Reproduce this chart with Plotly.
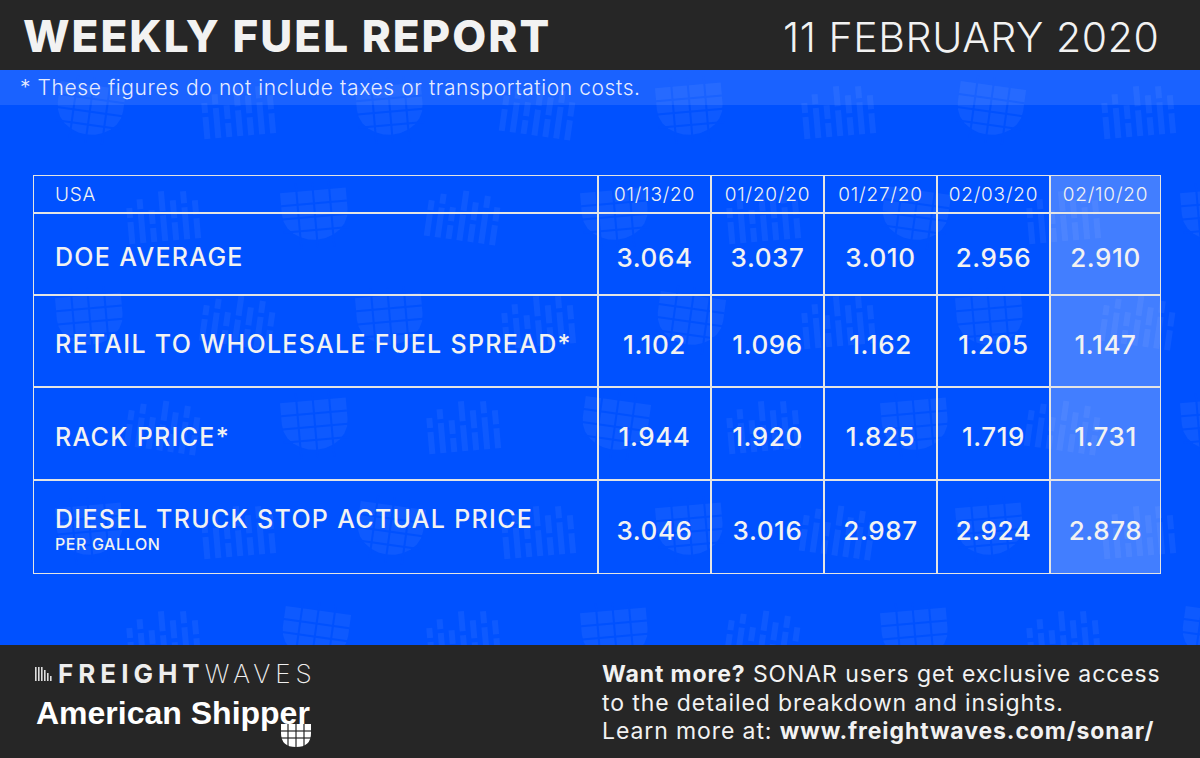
import math
import numpy as np
import plotly.graph_objects as go

# data
region = "USA"
weeks = ["01/13/20", "01/20/20", "01/27/20", "02/03/20", "02/10/20"]
metrics = [
    "DOE AVERAGE",
    "RETAIL TO WHOLESALE FUEL SPREAD*",
    "RACK PRICE*",
    "DIESEL TRUCK STOP ACTUAL PRICE",
]
metric_notes = ["", "", "", "PER GALLON"]
doe_average = [3.064, 3.037, 3.010, 2.956, 2.910]
fuel_spread = [1.102, 1.096, 1.162, 1.205, 1.147]
rack_price = [1.944, 1.920, 1.825, 1.719, 1.731]
truck_stop = [3.046, 3.016, 2.987, 2.924, 2.878]
values = [doe_average, fuel_spread, rack_price, truck_stop]
highlight_week = "02/10/20"

# look
W, H = 1200, 758
BLUE = "#0051ff"
DARK = "#262626"
GRID = "#e4e4e4"
TXT = "#f2f2f2"
FONT = "Inter"
MARK = "rgba(255,255,255,0.055)"

col_widths = [565, 113, 113, 113, 113, 111]
row_heights = [38, 82, 92, 93, 94]
tbl_left, tbl_top = 33, 175
col_edges = np.concatenate([[0], np.cumsum(col_widths)])
row_edges = np.concatenate([[0], np.cumsum(row_heights)])
col_mid = (col_edges[:-1] + col_edges[1:]) / 2
row_mid = (row_edges[:-1] + row_edges[1:]) / 2
tbl_w, tbl_h = float(col_edges[-1]), float(row_edges[-1])


def px(x):
    return float(x) / W


def py(y):
    return 1 - float(y) / H


def spaced(s, ls):
    return f"<span style='letter-spacing:{ls}px'>{s}</span>"


def rot(pts, cx, cy, ang):
    a = math.radians(ang)
    return [(cx + x * math.cos(a) - y * math.sin(a), cy + x * math.sin(a) + y * math.cos(a))
            for x, y in pts]


def poly(pts, cx, cy, ang):
    out = [f"{px(x):.5f},{py(y):.5f}" for x, y in rot(pts, cx, cy, ang)]
    return "M " + " L ".join(out) + " Z"


# background watermark pieces (shield with grid, broken bars)
def shield_shapes(cx, cy, ang, s=33):
    pts = [(-s, -s * 0.75), (s, -s * 0.75), (s, -s * 0.1)]
    for k in range(1, 12):
        t = math.pi * k / 12
        pts.append((s * math.cos(t), -s * 0.1 + s * 0.85 * math.sin(t)))
    pts.append((-s, -s * 0.1))
    out = [dict(type="path", path=poly(pts, cx, cy, ang), fillcolor=MARK, line_width=0, layer="below")]
    for gx in (-s / 2, 0, s / 2):
        (x0, y0), (x1, y1) = rot([(gx, -s), (gx, s)], cx, cy, ang)
        out.append(dict(type="line", x0=px(x0), x1=px(x1), y0=py(y0), y1=py(y1),
                        line=dict(color=BLUE, width=2), layer="below"))
    for gy in (-s * 0.35, s * 0.05, s * 0.45):
        (x0, y0), (x1, y1) = rot([(-s, gy), (s, gy)], cx, cy, ang)
        out.append(dict(type="line", x0=px(x0), x1=px(x1), y0=py(y0), y1=py(y1),
                        line=dict(color=BLUE, width=2), layer="below"))
    return out


def bars_shapes(cx, cy, ang):
    parts = []
    tops = [-10, -18, -6, -24, -14, -22, -12]
    cuts = [2, -6, 10, -2, 6, -8, 4]
    for k, (tp, ct) in enumerate(zip(tops, cuts)):
        x0 = -38 + k * 11
        for a, b in ((tp, ct - 2), (ct + 2, 26)):
            parts.append(poly([(x0, a), (x0 + 6, a), (x0 + 6, b), (x0, b)], cx, cy, ang))
    return [dict(type="path", path=" ".join(parts), fillcolor=MARK, line_width=0, layer="below")]


shapes = []
for j in range(6):
    for i in range(8):
        cx = 90 + i * 150 + (j % 2) * 75
        cy = 110 + j * 105
        ang = 8 if (i + j) % 3 == 0 else -5
        if (i + j) % 2 == 0:
            shapes += shield_shapes(cx, cy, ang)
        else:
            shapes += bars_shapes(cx, cy, ang)

shapes += [
    # header bar, note band, footer
    dict(type="rect", x0=0, x1=1, y0=py(0), y1=py(70), fillcolor=DARK, line_width=0, layer="below"),
    dict(type="rect", x0=0, x1=1, y0=py(70), y1=py(105), fillcolor="rgba(255,255,255,0.1)",
         line_width=0, layer="below"),
    dict(type="rect", x0=0, x1=1, y0=py(645), y1=py(H), fillcolor=DARK, line_width=0, layer="below"),
]

# freightwaves bar mark
for i, h in enumerate([14, 14, 14, 11, 8, 5]):
    shapes.append(dict(type="rect", x0=px(35 + i * 3), x1=px(36.6 + i * 3),
                       y0=py(681), y1=py(681 - h), fillcolor="#dddddd", line_width=0))

# american shipper shield
sx0, sx1, sy0, sy1 = 281, 311, 724, 747
shapes.append(dict(
    type="path",
    path=(f"M {px(sx0)},{py(sy0)} L {px(sx1)},{py(sy0)} L {px(sx1)},{py(sy0 + 9)} "
          f"Q {px(sx1)},{py(sy1)} {px((sx0 + sx1) / 2)},{py(sy1)} "
          f"Q {px(sx0)},{py(sy1)} {px(sx0)},{py(sy0 + 9)} Z"),
    fillcolor="white", line_width=0,
))
for gx in [288, 296, 304]:
    shapes.append(dict(type="line", x0=px(gx), x1=px(gx), y0=py(sy0), y1=py(sy1),
                       line=dict(color=DARK, width=1.2)))
for gy in [731, 738]:
    shapes.append(dict(type="line", x0=px(sx0), x1=px(sx1), y0=py(gy), y1=py(gy),
                       line=dict(color=DARK, width=1.2)))
for s in shapes:
    s.update(xref="paper", yref="paper")

# table grid on the table axes
for e in col_edges:
    shapes.append(dict(type="line", xref="x", yref="y", x0=e, x1=e, y0=0, y1=tbl_h,
                       line=dict(color=GRID, width=2)))
for e in row_edges:
    shapes.append(dict(type="line", xref="x", yref="y", x0=0, x1=tbl_w, y0=e, y1=e,
                       line=dict(color=GRID, width=2)))

# cell fills: last week column highlighted
cols = [region] + weeks
z = [[1 if c == highlight_week else 0 for c in cols] for _ in row_heights]

fig = go.Figure()
fig.add_trace(go.Heatmap(
    x=col_edges, y=row_edges, z=z,
    zmin=0, zmax=1,
    colorscale=[[0, "rgba(0,0,0,0)"], [1, "rgba(255,255,255,0.26)"]],
    showscale=False, hoverinfo="skip",
))

# header row texts
fig.add_trace(go.Scatter(
    x=list(col_mid[1:]), y=[row_mid[0] + 2] * len(weeks),
    mode="text", text=[spaced(w, 0.8) for w in weeks],
    textfont=dict(family=FONT, size=19, color=TXT, weight=300),
    hoverinfo="skip", cliponaxis=False,
))
fig.add_trace(go.Scatter(
    x=[22], y=[row_mid[0] + 2], mode="text", text=[spaced(region, 0.8)],
    textposition="middle right",
    textfont=dict(family=FONT, size=19, color=TXT, weight=300),
    hoverinfo="skip", cliponaxis=False,
))

# row labels (with a small note line under the label where present)
label_y = [m + (6 if not n else -5) for m, n in zip(row_mid[1:], metric_notes)]
fig.add_trace(go.Scatter(
    x=[22] * len(metrics), y=label_y,
    mode="text", text=[spaced(m, 1.3) for m in metrics], textposition="middle right",
    textfont=dict(family=FONT, size=25, color=TXT, weight=500),
    hoverinfo="skip", cliponaxis=False,
))
note_rows = [i for i, n in enumerate(metric_notes) if n]
fig.add_trace(go.Scatter(
    x=[22] * len(note_rows), y=[row_mid[i + 1] + 19 for i in note_rows],
    mode="text", text=[spaced(metric_notes[i], 0.6) for i in note_rows],
    textposition="middle right",
    textfont=dict(family=FONT, size=16, color=TXT, weight=500),
    hoverinfo="skip", cliponaxis=False,
))

# values
vx, vy, vt = [], [], []
for r, row in enumerate(values):
    for c, v in enumerate(row):
        vx.append(col_mid[c + 1])
        vy.append(row_mid[r + 1] + 6)
        vt.append(spaced(f"{v:.3f}", 0.6))
fig.add_trace(go.Scatter(
    x=vx, y=vy, mode="text", text=vt,
    textfont=dict(family=FONT, size=26, color=TXT, weight=500),
    hoverinfo="skip", cliponaxis=False,
))

annotations = [
    dict(x=px(21), y=py(36), text=spaced("WEEKLY FUEL REPORT", 2), xanchor="left", yanchor="middle",
         font=dict(family=FONT, size=44, color=TXT, weight=800)),
    dict(x=px(1161), y=py(37), text=spaced("11 FEBRUARY 2020", 0.6), xanchor="right", yanchor="middle",
         font=dict(family=FONT, size=41, color=TXT, weight=300)),
    dict(x=px(18), y=py(88), text=spaced("* These figures do not include taxes or transportation costs.", 0.6),
         xanchor="left", yanchor="middle",
         font=dict(family=FONT, size=21, color="#e6ecff", weight=300)),
    dict(x=px(56), y=py(673), text=spaced("<b>FREIGHT</b>WAVES", 5), xanchor="left", yanchor="middle",
         font=dict(family=FONT, size=26, color="#eeeeee", weight=200)),
    dict(x=px(34), y=py(713), text="<b>American Shipper</b>", xanchor="left", yanchor="middle",
         font=dict(family="Liberation Sans", size=32, color="white")),
    dict(x=px(600), y=py(674), text=spaced("<b>Want more?</b> SONAR users get exclusive access", 0.9),
         xanchor="left", yanchor="middle",
         font=dict(family=FONT, size=23, color=TXT, weight=400)),
    dict(x=px(600), y=py(703), text=spaced("to the detailed breakdown and insights.", 0.9),
         xanchor="left", yanchor="middle",
         font=dict(family=FONT, size=23, color=TXT, weight=400)),
    dict(x=px(600), y=py(731), text=spaced("Learn more at: <b>www.freightwaves.com/sonar/</b>", 0.9),
         xanchor="left", yanchor="middle",
         font=dict(family=FONT, size=23, color=TXT, weight=400)),
]
for a in annotations:
    a.update(xref="paper", yref="paper", showarrow=False)

fig.update_layout(
    width=W, height=H,
    margin=dict(l=0, r=0, t=0, b=0),
    paper_bgcolor=BLUE, plot_bgcolor="rgba(0,0,0,0)",
    showlegend=False,
    shapes=shapes, annotations=annotations,
    xaxis=dict(domain=[px(tbl_left), px(tbl_left + tbl_w)],
               range=[0, tbl_w], visible=False, fixedrange=True),
    yaxis=dict(domain=[py(tbl_top + tbl_h), py(tbl_top)],
               range=[tbl_h, 0], visible=False, fixedrange=True),
)

fig.write_html("out.html", config={"displayModeBar": False},
               post_script="document.body.style.margin='0';")
